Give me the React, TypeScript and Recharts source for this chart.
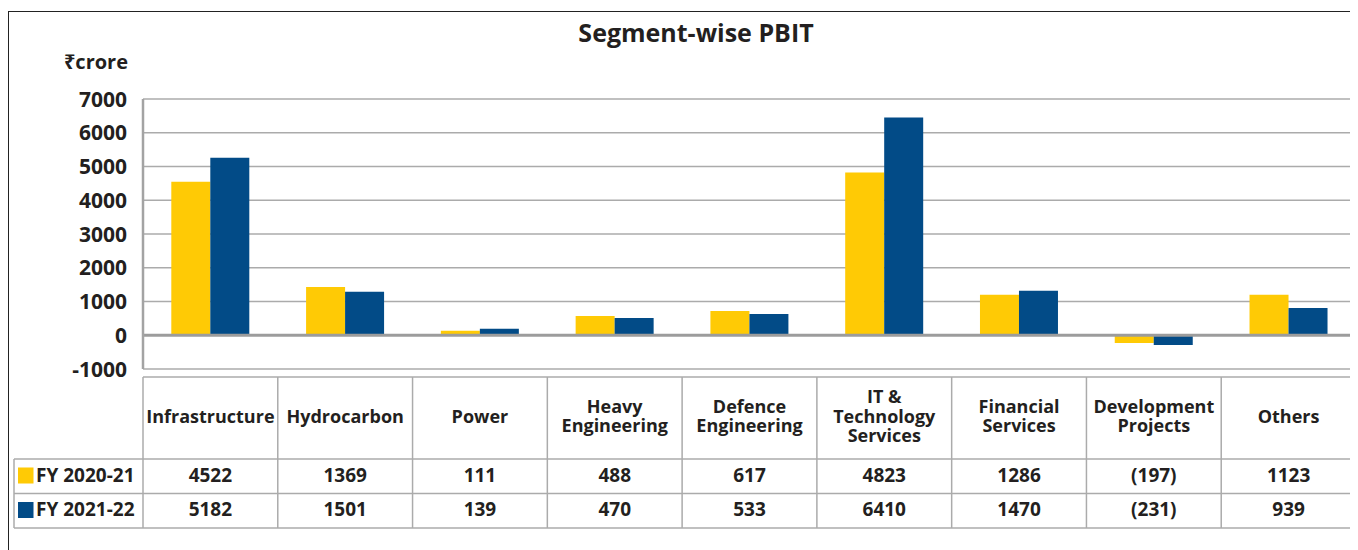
import React from "react";
import { BarChart, Bar, XAxis, YAxis, CartesianGrid, ReferenceLine } from "recharts";

// segment names (line breaks as in the table header)
const segments = [
  "Infrastructure",
  "Hydrocarbon",
  "Power",
  "Heavy\nEngineering",
  "Defence\nEngineering",
  "IT &\nTechnology\nServices",
  "Financial\nServices",
  "Development\nProjects",
  "Others",
];
// bar heights as drawn in the chart
const fy2021 = [4550, 1430, 130, 570, 720, 4820, 1200, -230, 1200];
const fy2122 = [5260, 1290, 190, 510, 630, 6450, 1320, -290, 810];
// values printed in the data table
const fy2021Labels = ["4522", "1369", "111", "488", "617", "4823", "1286", "(197)", "1123"];
const fy2122Labels = ["5182", "1501", "139", "470", "533", "6410", "1470", "(231)", "939"];
const seriesNames = ["FY 2020-21", "FY 2021-22"];
const yTicks = [7000, 6000, 5000, 4000, 3000, 2000, 1000, 0, -1000];

const YELLOW = "#FFCA05";
const BLUE = "#024B87";
const INK = "#231F20";
const RULE = "#ababab";

const W = 1350;
const H = 542;
const Y_W = 135;
const M_R = 2;
const BAND = (W - Y_W - M_R) / segments.length;
const TABLE_TOP = 369;
const HEAD_H = 82;
const ROW_H = 34.5;

const data = segments.map((name, i) => ({
  name,
  a: fy2021[i],
  b: fy2122[i],
  la: fy2021Labels[i],
  lb: fy2122Labels[i],
}));

function YTick(props: any) {
  const { y, payload } = props;
  return (
    <text x={119} y={y} dy={7.5} textAnchor="end" fontSize={21} fontWeight={700} fill={INK}>
      {payload.value}
    </text>
  );
}

// one table column per category, placed by the x axis scale
function TableColumn(props: any) {
  const { x, payload, index } = props;
  const row = data.find((d) => d.name === payload.value) ?? data[index];
  const lines = String(row.name).split("\n");
  const lh = 19.5;
  const cy = TABLE_TOP + 39 - ((lines.length - 1) * lh) / 2;
  const half = BAND / 2;
  const bottom = TABLE_TOP + HEAD_H + ROW_H * 2;
  const last = row.name === segments[segments.length - 1];
  return (
    <g>
      <line x1={x - half} x2={x - half} y1={TABLE_TOP} y2={bottom} stroke={RULE} strokeWidth={1.5} />
      {last && <line x1={x + half} x2={x + half} y1={TABLE_TOP} y2={bottom} stroke={RULE} strokeWidth={1.5} />}
      {lines.map((l, k) => (
        <text key={k} x={x} y={cy + k * lh + 6.5} textAnchor="middle" fontSize={18} fontWeight={700} fill={INK}>
          {l}
        </text>
      ))}
      <text x={x} y={TABLE_TOP + HEAD_H + 16 + 7} textAnchor="middle" fontSize={19} fontWeight={700} fill={INK}>
        {row.la}
      </text>
      <text x={x} y={TABLE_TOP + HEAD_H + ROW_H + 15 + 7} textAnchor="middle" fontSize={19} fontWeight={700} fill={INK}>
        {row.lb}
      </text>
    </g>
  );
}

export default function App() {
  const r1 = TABLE_TOP + HEAD_H;
  const r2 = r1 + ROW_H;
  const r3 = r2 + ROW_H;
  return (
    <div
      style={{
        position: "relative",
        width: W,
        height: H,
        overflow: "hidden",
        fontFamily: "'Open Sans', 'Noto Sans', sans-serif",
        background: "#fff",
      }}
    >
      <div
        style={{
          position: "absolute",
          left: 0,
          top: 3,
          width: W + 10,
          height: H + 10,
          borderTop: "1.5px solid #222",
          borderLeft: "1.5px solid #222",
        }}
      />
      <div style={{ position: "absolute", left: 0, top: 0 }}>
        <BarChart
          width={W}
          height={530}
          data={data}
          margin={{ top: 91, right: M_R, left: 0, bottom: 0 }}
          barCategoryGap="21%"
          barGap={0}
        >
          <CartesianGrid vertical={false} stroke={RULE} strokeWidth={1.5} />
          <YAxis
            width={Y_W}
            domain={[-1000, 7000]}
            ticks={yTicks}
            interval={0}
            tick={<YTick />}
            tickLine={false}
            axisLine={{ stroke: "#a3a3a3", strokeWidth: 2.5 }}
          />
          <XAxis
            dataKey="name"
            height={169}
            interval={0}
            tick={<TableColumn />}
            tickLine={false}
            tickSize={0}
            tickMargin={0}
            axisLine={false}
          />
          <Bar dataKey="a" name={seriesNames[0]} fill={YELLOW} isAnimationActive={false} />
          <Bar dataKey="b" name={seriesNames[1]} fill={BLUE} isAnimationActive={false} />
          <ReferenceLine y={0} stroke="#9c9c9c" strokeWidth={3} />
        </BarChart>
      </div>
      <svg width={W} height={H} style={{ position: "absolute", left: 0, top: 0, pointerEvents: "none" }}>
        <text x={688} y={34} textAnchor="middle" fontSize={25} fontWeight={700} fill={INK}>
          Segment-wise PBIT
        </text>
        <text x={120} y={61} textAnchor="end" fontSize={20} fontWeight={700} fill={INK}>
          ₹crore
        </text>
        <line x1={Y_W} x2={W} y1={TABLE_TOP} y2={TABLE_TOP} stroke={RULE} strokeWidth={1.5} />
        <line x1={6} x2={W} y1={r1} y2={r1} stroke={RULE} strokeWidth={1.5} />
        <line x1={6} x2={W} y1={r2} y2={r2} stroke={RULE} strokeWidth={1.5} />
        <line x1={6} x2={W} y1={r3} y2={r3} stroke={RULE} strokeWidth={1.5} />
        <line x1={6} x2={6} y1={r1} y2={r3} stroke={RULE} strokeWidth={1.5} />
        <rect x={10} y={r1 + 8.5} width={15.5} height={16} fill={YELLOW} />
        <rect x={10} y={r2 + 8.5} width={15.5} height={16} fill={BLUE} />
        <text x={28} y={r1 + 16 + 7} fontSize={19} fontWeight={700} fill={INK}>
          {seriesNames[0]}
        </text>
        <text x={28} y={r2 + 15 + 7} fontSize={19} fontWeight={700} fill={INK}>
          {seriesNames[1]}
        </text>
      </svg>
    </div>
  );
}
